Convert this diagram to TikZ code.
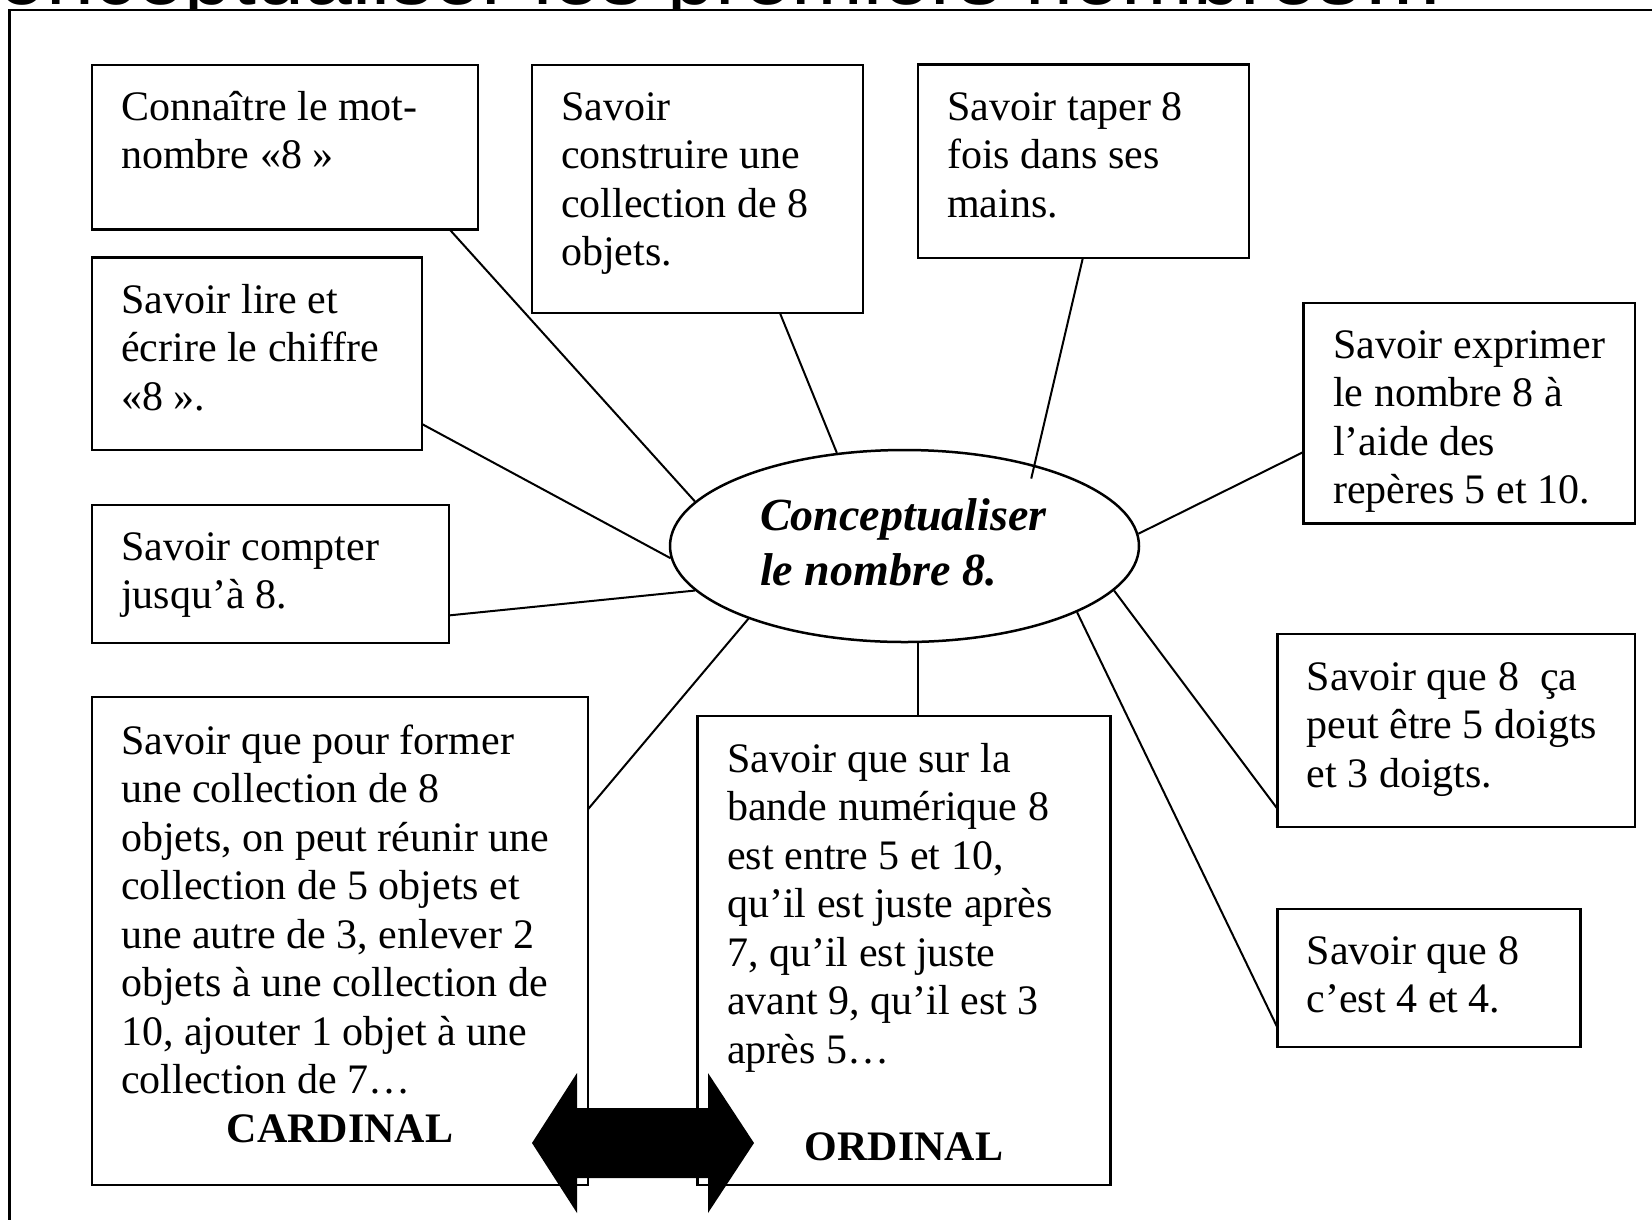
\documentclass[tikz,border=0pt]{standalone}
\usepackage{fontspec}
\setmainfont{Liberation Serif}
\newfontfamily\titlefont{Liberation Sans}
\usetikzlibrary{shapes.geometric,calc}
\tikzset{
  box/.style={draw, rectangle, line width=2.6pt, inner sep=0pt, outer sep=0pt, anchor=north west},
  txt/.style={anchor=north west, inner sep=0pt, align=left, font=\fontsize{42}{48.5}\selectfont},
  tag/.style={anchor=base, inner sep=0pt, font=\fontsize{42}{48.5}\selectfont\bfseries},
  link/.style={line width=2pt},
}
\begin{document}
\begin{tikzpicture}[x=1pt,y=-1pt]
\useasboundingbox (0,0) rectangle (1652,1219);
\clip (0,0) rectangle (1652,1219);
% cut title
\begin{scope}
\clip (-10,-10) rectangle (1700,10);
\node[anchor=base west, inner sep=0pt, font=\titlefont\fontsize{86}{90}\selectfont] (title) at (-64,4) {Conceptualiser les premiers nombres…};
\end{scope}
% frame
\draw[line width=2.6pt] (9.7,1240) -- (9.7,10) -- (1680,10);
% boxes
\node[box, minimum width=386pt, minimum height=164.7pt] (b1) at (92,65) {};
\node[box, minimum width=331pt, minimum height=248pt] (b2) at (532,65) {};
\node[box, minimum width=331pt, minimum height=193.5pt] (b3) at (918,64.5) {};
\node[box, minimum width=330pt, minimum height=192.4pt] (b4) at (92,257.6) {};
\node[box, minimum width=331.5pt, minimum height=220.7pt] (b5) at (1303.5,303) {};
\node[box, minimum width=357pt, minimum height=138pt] (b6) at (92,505) {};
\node[box, minimum width=357.4pt, minimum height=193pt] (b7) at (1277.6,634) {};
\node[box, minimum width=496pt, minimum height=488pt] (b8) at (92,697) {};
\node[box, minimum width=413pt, minimum height=469pt] (b9) at (697.5,716) {};
\node[box, minimum width=303pt, minimum height=138pt] (b10) at (1277.6,909) {};
% ellipse
\node[draw, ellipse, line width=2.5pt, minimum width=469pt, minimum height=192pt, inner sep=0pt] (ell) at (904.5,546) {};
\node[anchor=north west, inner sep=0pt, align=left, font=\fontsize{46}{55}\selectfont\bfseries\itshape] (et) at (760,491.5) {\strut Conceptualiser\\le nombre 8.};
% texts
\node[txt] (t1) at (121,86) {\strut Connaître le mot-\\nombre «8 »};
\node[txt] (t2) at (561,86) {\strut Savoir\\construire une\\collection de 8\\objets.};
\node[txt] (t3) at (947,86) {\strut Savoir taper 8\\fois dans ses\\mains.};
\node[txt] (t4) at (121,279) {\strut Savoir lire et\\écrire le chiffre\\«8 ».};
\node[txt] (t5) at (1333,324) {\strut Savoir exprimer\\le nombre 8 à\\l’aide des\\repères 5 et 10.};
\node[txt] (t6) at (121,526) {\strut Savoir compter\\jusqu’à 8.};
\node[txt] (t7) at (1306.5,656) {\strut Savoir que 8 \ ça\\peut être 5 doigts\\et 3 doigts.};
\node[txt] (t8) at (121,720) {\strut Savoir que pour former\\une collection de 8\\objets, on peut réunir une\\collection de 5 objets et\\une autre de 3, enlever 2\\objets à une collection de\\10, ajouter 1 objet à une\\collection de 7…};
\node[tag] (card) at (340,1142) {CARDINAL};
\node[txt] (t9) at (727,738) {\strut Savoir que sur la\\bande numérique 8\\est entre 5 et 10,\\qu’il est juste après\\7, qu’il est juste\\avant 9, qu’il est 3\\après 5…};
\node[tag] (ord) at (904,1160) {ORDINAL};
\node[txt] (t10) at (1306.5,930) {\strut Savoir que 8\\c’est 4 et 4.};
% connectors
\draw[link] ($(b1.south west)!0.927!(b1.south east)$) -- (ell.168);
\draw[link] ($(b2.south west)!0.749!(b2.south east)$) -- (ell.126);
\draw[link] ($(b3.south west)!0.498!(b3.south east)$) -- ($(ell.center)!0.877!(ell.28.3)$);
\draw[link] ($(b4.north east)!0.865!(b4.south east)$) -- (ell.183);
\draw[link] ($(b5.north west)!0.675!(b5.south west)$) -- (ell.3);
\draw[link] ($(b6.north east)!0.80!(b6.south east)$) -- (ell.192);
\draw[link] ($(b8.north east)!0.23!(b8.south east)$) -- (ell.205);
\coordinate (p9) at ($(b9.north west)!0.534!(b9.north east)$);
\draw[link] (p9) -- (p9 |- ell.south);
\draw[link] ($(b7.north west)!0.907!(b7.south west)$) -- (ell.348);
\draw[link] ($(b10.north west)!0.862!(b10.south west)$) -- (ell.339);
% double arrow
\fill (532,1143) -- (577,1073) -- (577,1108) -- (708,1108) -- (708,1073) -- (754,1143)
  -- (708,1213) -- (708,1178) -- (577,1178) -- (577,1213) -- cycle;
\end{tikzpicture}
\end{document}
